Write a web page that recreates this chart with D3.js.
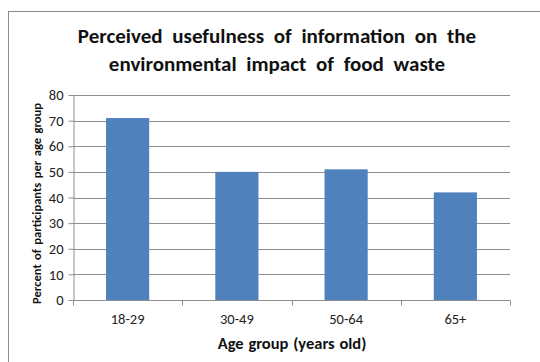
<!DOCTYPE html>
<html>
<head>
<meta charset="utf-8">
<script src="https://cdn.jsdelivr.net/npm/d3@7"></script>
<style>
  html, body { margin: 0; padding: 0; background: #fff; }
  svg { display: block; }
</style>
</head>
<body>
<svg id="chart" width="540" height="362"></svg>
<script>
// Survey results: share of participants in each age group who found the information useful
const ageGroups = ["18-29", "30-49", "50-64", "65+"];
const percentUseful = [71, 50, 51, 42];
const yTicks = [0, 10, 20, 30, 40, 50, 60, 70, 80];
const titleLines = ["Perceived usefulness of information on the", "environmental impact of food waste"];

const svg = d3.select("#chart");
const fontFamily = "Carlito, 'Open Sans', 'Liberation Sans', sans-serif";

// Outer chart frame
svg.append("rect")
  .attr("x", 8.5).attr("y", 11.5)
  .attr("width", 600).attr("height", 400)
  .attr("fill", "#fff")
  .attr("stroke", "#8c8c8c").attr("stroke-width", 1);

const plot = { left: 73, right: 510, top: 95, bottom: 300 };

const x = d3.scaleBand()
  .domain(ageGroups)
  .range([plot.left, plot.right])
  .paddingInner(0.605)
  .paddingOuter(0.3025);

const y = d3.scaleLinear()
  .domain([0, 80])
  .range([plot.bottom, plot.top]);

// Horizontal gridlines
svg.append("g")
  .selectAll("line")
  .data(yTicks.filter(d => d > 0))
  .join("line")
  .attr("x1", plot.left).attr("x2", plot.right)
  .attr("y1", d => Math.round(y(d)) + 0.5)
  .attr("y2", d => Math.round(y(d)) + 0.5)
  .attr("stroke", "#8e8e8e").attr("stroke-width", 1);

// Bars
svg.append("g")
  .selectAll("rect")
  .data(ageGroups.map((g, i) => ({ g, v: percentUseful[i] })))
  .join("rect")
  .attr("x", d => x(d.g))
  .attr("y", d => y(d.v))
  .attr("width", x.bandwidth())
  .attr("height", d => y(0) - y(d.v))
  .attr("fill", "#4f81bd");

// Y axis
const yAxis = svg.append("g")
  .attr("transform", `translate(${plot.left + 0.5},0)`)
  .call(d3.axisLeft(y).tickValues(yTicks).tickSize(5).tickPadding(5).tickSizeOuter(0));
yAxis.select(".domain").attr("stroke", "#8e8e8e");
yAxis.selectAll(".tick line").attr("stroke", "#8e8e8e");
yAxis.selectAll(".tick text")
  .attr("font-family", fontFamily).attr("font-size", 14.5).attr("fill", "#222");

// X axis with tick marks at category boundaries
const xAxisG = svg.append("g")
  .attr("transform", `translate(0,${plot.bottom + 0.5})`);
xAxisG.append("line")
  .attr("x1", plot.left).attr("x2", plot.right)
  .attr("stroke", "#8e8e8e");
const boundaries = d3.range(ageGroups.length + 1).map(i => plot.left + i * (plot.right - plot.left) / ageGroups.length);
xAxisG.selectAll("line.bound")
  .data(boundaries)
  .join("line")
  .attr("class", "bound")
  .attr("x1", d => Math.round(d) + 0.5).attr("x2", d => Math.round(d) + 0.5)
  .attr("y1", 0).attr("y2", 5)
  .attr("stroke", "#8e8e8e");
xAxisG.selectAll("text")
  .data(ageGroups)
  .join("text")
  .attr("x", d => x(d) + x.bandwidth() / 2)
  .attr("y", 23)
  .attr("text-anchor", "middle")
  .attr("font-family", fontFamily).attr("font-size", 14.5).attr("fill", "#222")
  .text(d => d);

// Axis titles
svg.append("text")
  .attr("x", 292).attr("y", 349)
  .attr("text-anchor", "middle")
  .attr("font-family", fontFamily).attr("font-weight", "bold").attr("font-size", 16.5)
  .attr("word-spacing", 1)
  .attr("fill", "#111")
  .text("Age group (years old)");

svg.append("text")
  .attr("transform", `translate(41,${(plot.top + plot.bottom) / 2 + 6}) rotate(-90)`)
  .attr("text-anchor", "middle")
  .attr("font-family", fontFamily).attr("font-weight", "bold").attr("font-size", 12.6)
  .attr("word-spacing", 1.5)
  .attr("fill", "#111")
  .text("Percent of participants  per age group");

// Chart title
svg.append("g")
  .selectAll("text")
  .data(titleLines)
  .join("text")
  .attr("x", 277)
  .attr("y", (d, i) => 43 + i * 28)
  .attr("text-anchor", "middle")
  .attr("font-family", fontFamily).attr("font-weight", "bold").attr("font-size", 21)
  .attr("word-spacing", 5)
  .attr("fill", "#111")
  .text(d => d);
</script>
</body>
</html>
